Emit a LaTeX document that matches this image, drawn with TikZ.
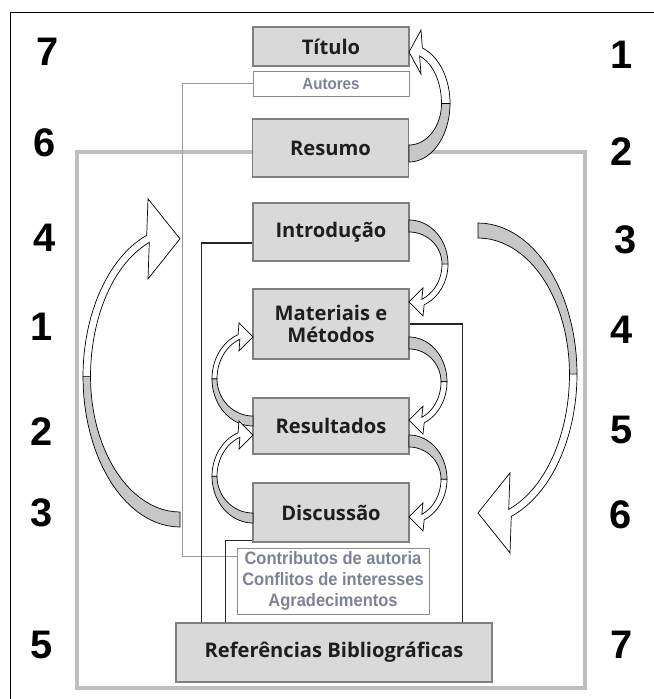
\documentclass[tikz,border=0pt]{standalone}
\usepackage{fontspec}
\setmainfont{Open Sans}
\newfontfamily\numfont{Liberation Sans}
\newfontfamily\notefont{Liberation Sans}[FakeStretch=0.92]
\definecolor{notegray}{RGB}{125,131,150}
\definecolor{boxtext}{RGB}{30,30,30}

\tikzstyle{sect} = [rectangle, draw=black!50, line width=0.9pt, fill=black!15, minimum width=4.68cm, inner sep=0pt, align=center, text=boxtext, font=\fontsize{17.2}{19}\selectfont\bfseries]
\tikzstyle{note} = [rectangle, draw=black!45, line width=0.8pt, fill=white, inner sep=0pt, align=center, text=notegray, font=\notefont\bfseries\fontsize{15.3}{17.9}\selectfont]
\tikzstyle{num} = [font=\numfont\bfseries\fontsize{34}{34}\selectfont]
\tikzstyle{link} = [draw=black!85, line width=0.9pt]
\tikzstyle{graylink} = [draw=black!40, line width=1.1pt]
\tikzstyle{crescent} = [fill=black!22, draw=black, line width=0.6pt]
\tikzstyle{band} = [fill=white, draw=black, line width=0.6pt]

% curved ribbon arrow: centre x, centre y, bulge, half height, side, up/down, start width, head length, head half width
\newcommand{\bentarrow}[9]{%
  \begin{scope}[shift={(#1,#2)}, xscale=#5, yscale=#6]
    \pgfmathsetmacro{\bandw}{#7/2}
    \pgfmathsetmacro{\headang}{acos(#8/(#3-\bandw/2))}
    \pgfmathsetmacro{\heady}{(#4-\bandw/2)*sin(\headang)}
    \filldraw[crescent] plot[domain=-90:0, samples=25] ({#3*cos(\x)}, {#4*sin(\x)})
      -- plot[domain=0:-90, samples=25] ({(#3-\bandw)*cos(\x)}, {(#4-#7)*sin(\x)}) -- cycle;
    \filldraw[band] plot[domain=0:\headang, samples=25] ({#3*cos(\x)}, {#4*sin(\x)})
      -- (#8, \heady+#9) -- (0, \heady) -- (#8, \heady-#9)
      -- plot[domain=\headang:0, samples=25] ({(#3-\bandw)*cos(\x)}, {(#4-\bandw)*sin(\x)}) -- cycle;
  \end{scope}}

\begin{document}
\begin{tikzpicture}[x=0.03cm, y=-0.03cm]
        \useasboundingbox (0,0) rectangle (654,699);
        \draw[black, line width=0.7pt] (10,699) -- (10,12) -- (654,12);
        \draw[black!25, line width=2.6pt] (77,152) rectangle (585,688);

        % side numbers
        \node (l7) [num] at (48,52) {7};
        \node (l6) [num] at (45,143) {6};
        \node (l4) [num] at (45,238) {4};
        \node (l1) [num] at (42,327) {1};
        \node (l2) [num] at (42,432) {2};
        \node (l3) [num] at (42,513) {3};
        \node (l5) [num] at (42,645) {5};
        \node (r1) [num] at (622,55) {1};
        \node (r2) [num] at (622,152) {2};
        \node (r3) [num] at (626,240) {3};
        \node (r4) [num] at (622,330) {4};
        \node (r5) [num] at (622,430) {5};
        \node (r6) [num] at (621,515) {6};
        \node (r7) [num] at (622,645) {7};

        % sections
        \node (titulo) [sect, minimum height=1.17cm] at (331,46.5) {Título};
        \node (autores) [note, minimum width=4.68cm, minimum height=0.75cm, font=\notefont\bfseries\fontsize{14}{16}\selectfont] at (331,83.5) {Autores};
        \node (resumo) [sect, minimum height=1.74cm] at (330.5,148) {Resumo};
        \node (intro) [sect, minimum height=1.74cm] at (331,232) {Introdução};
        \node (metodos) [sect, minimum height=2.1cm] at (331,324) {Materiais e\\Métodos};
        \node (result) [sect, minimum height=1.68cm] at (331,426) {Resultados};
        \node (discus) [sect, minimum height=1.77cm] at (331,512.5) {Discussão};
        \node (extras) [note, minimum width=5.76cm, minimum height=1.98cm] at (333,581) {Contributos de autoria\\Conflitos de interesses\\Agradecimentos};
        \node (refs) [sect, minimum width=9.48cm, minimum height=1.77cm] at (334,652.5) {Referências Bibliográficas};

        % links
        \draw [graylink] (autores.west) -- ++(-70,0) |- ([yshift=-0.27cm]extras.north west);
        \draw [link] ([yshift=-0.33cm]intro.west) -| ([xshift=0.78cm]refs.north west);
        \draw [link] ([yshift=0.06cm]discus.south west) -| ([xshift=1.5cm]refs.north west);
        \draw [link] (metodos.east) -| ([xshift=-0.9cm]refs.north east);

        % curved arrows
        \bentarrow{409}{103.4}{41}{58.6}{1}{-1}{17}{12}{22}
        \bentarrow{409}{264.1}{39}{44.1}{1}{1}{12}{14}{14}
        \bentarrow{409}{381.75}{38}{44.75}{1}{1}{12}{14}{14}
        \bentarrow{409}{479.2}{38}{44.2}{1}{1}{12}{14}{14}
        \bentarrow{253}{378.7}{41}{47.3}{-1}{-1}{10}{14}{14}
        \bentarrow{253}{476.25}{41}{46.75}{-1}{-1}{10}{14}{14}
        \bentarrow{478}{374.1}{99}{151.1}{1}{1}{15}{32}{40}
        \bentarrow{180}{376.6}{97}{150.4}{-1}{-1}{15}{32}{40}
\end{tikzpicture}
\end{document}
